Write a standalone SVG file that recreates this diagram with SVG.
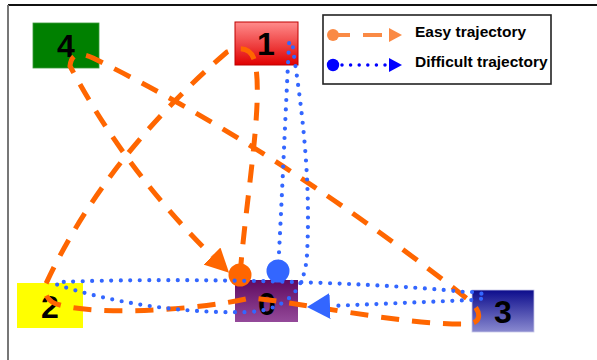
<svg xmlns="http://www.w3.org/2000/svg" width="597" height="360" viewBox="0 0 597 360">
  <style>
    .label { font-family: "Liberation Sans", Arial, sans-serif; font-weight: bold; font-size: 32px; fill: #000; text-anchor: middle; }
    .legend-text { font-family: "Liberation Sans", Arial, sans-serif; font-weight: bold; font-size: 15.5px; fill: #000; }
    .easy { fill: none; stroke: #ff6600; stroke-width: 5; stroke-dasharray: 18 13; }
    .hard { fill: none; stroke: #3366ff; stroke-width: 4.2; stroke-linecap: round; stroke-dasharray: 0 9.5; }
  </style>
  <defs>
    <linearGradient id="gradRed" x1="0" y1="0" x2="0" y2="1">
      <stop offset="0" stop-color="#ff8c8c"/>
      <stop offset="1" stop-color="#e00000"/>
    </linearGradient>
    <linearGradient id="gradPurple" x1="0" y1="0" x2="0" y2="1">
      <stop offset="0" stop-color="#600a60"/>
      <stop offset="1" stop-color="#944a9a"/>
    </linearGradient>
    <linearGradient id="gradBlue" x1="0" y1="0" x2="0" y2="1">
      <stop offset="0" stop-color="#0c0c8c"/>
      <stop offset="1" stop-color="#8a8ad0"/>
    </linearGradient>
    <marker id="easyStart" markerUnits="userSpaceOnUse" viewBox="0 0 24 24" refX="12" refY="12" markerWidth="24" markerHeight="24">
      <circle cx="12" cy="12" r="11.5" fill="#ff6600"/>
    </marker>
    <marker id="easyEnd" markerUnits="userSpaceOnUse" viewBox="0 0 24 24" refX="0" refY="12" markerWidth="24" markerHeight="24" orient="auto">
      <path d="M0,0 L24,12 L0,24 Z" fill="#ff6600"/>
    </marker>
    <marker id="hardStart" markerUnits="userSpaceOnUse" viewBox="0 0 24 24" refX="12" refY="12" markerWidth="24" markerHeight="24">
      <circle cx="12" cy="12" r="11.5" fill="#3366ff"/>
    </marker>
    <marker id="hardEnd" markerUnits="userSpaceOnUse" viewBox="0 0 24 26" refX="0" refY="13" markerWidth="24" markerHeight="26" orient="auto">
      <path d="M0,0 L23,13 L0,26 Z" fill="#3366ff"/>
    </marker>
  </defs>

  <!-- frame -->
  <line x1="8" y1="5" x2="597" y2="5" stroke="#111" stroke-width="2"/>
  <line x1="8" y1="5" x2="8" y2="360" stroke="#777" stroke-width="2"/>

  <!-- states -->
  <g id="node-4">
    <rect x="33" y="23" width="66" height="45" fill="#008000" stroke="#3a9a3a" stroke-width="0.8"/>
    <text class="label" x="66" y="57">4</text>
  </g>
  <g id="node-1">
    <rect x="235" y="22" width="63" height="43" fill="url(#gradRed)" stroke="#c00000" stroke-width="1"/>
    <text class="label" x="266" y="55">1</text>
  </g>
  <g id="node-2">
    <rect x="17" y="283" width="66" height="45" fill="#ffff00"/>
    <text class="label" x="50" y="318">2</text>
  </g>
  <g id="node-0">
    <rect x="235" y="280" width="63" height="42" fill="url(#gradPurple)"/>
    <text class="label" x="267" y="315">0</text>
  </g>
  <g id="node-3">
    <rect x="472" y="290" width="62" height="42" fill="url(#gradBlue)" stroke="#c8c8e8" stroke-width="0.8"/>
    <text class="label" x="503" y="323">3</text>
  </g>

  <!-- trajectories -->
  <g id="connectors">
    <path id="easy-trajectory" class="easy" marker-start="url(#easyStart)" marker-end="url(#easyEnd)"
          d="M240,275 C246,200 262,110 256,68 Q253,41 227,52 Q103,159 44,288 Q46,302 60,305 C100,316 200,310 250,298 C300,302 400,325 466,324 C480,324 484,314 470,301 Q278,149 93,58 Q72,48 70,66 Q125,170 212,256"/>
    <path id="difficult-trajectory" class="hard" marker-start="url(#hardStart)" marker-end="url(#hardEnd)"
          d="M278,271 C282,200 286,100 289,45 C289,38 293,40 294,56 C302,110 311,180 307,255 C305,285 292,309 250,312 C180,314 110,302 58,285 Q53,283 62,282 C150,278 350,280 465,292 C485,291 494,299 472,300 L330,306"/>
  </g>

  <!-- legend -->
  <g id="legend">
    <rect x="323" y="15" width="228" height="69" fill="#fff" stroke="#222" stroke-width="1.6"/>
    <circle cx="333" cy="35" r="6" fill="#fa8a45"/>
    <line x1="333" y1="35" x2="350" y2="35" stroke="#fa8a45" stroke-width="4"/>
    <line x1="363" y1="35" x2="382" y2="35" stroke="#fa8a45" stroke-width="4"/>
    <path d="M389,28 L402,35 L389,42 Z" fill="#fa8a45"/>
    <text class="legend-text" x="415" y="36.5">Easy trajectory</text>
    <circle cx="333" cy="65" r="6.2" fill="#0000ff"/>
    <line x1="342" y1="65" x2="386" y2="65" stroke="#0000ff" stroke-width="3.5" stroke-linecap="round" stroke-dasharray="0 8.6"/>
    <path d="M389,58 L402,65 L389,72 Z" fill="#0000ff"/>
    <text class="legend-text" x="415" y="66.5">Difficult trajectory</text>
  </g>
</svg>
